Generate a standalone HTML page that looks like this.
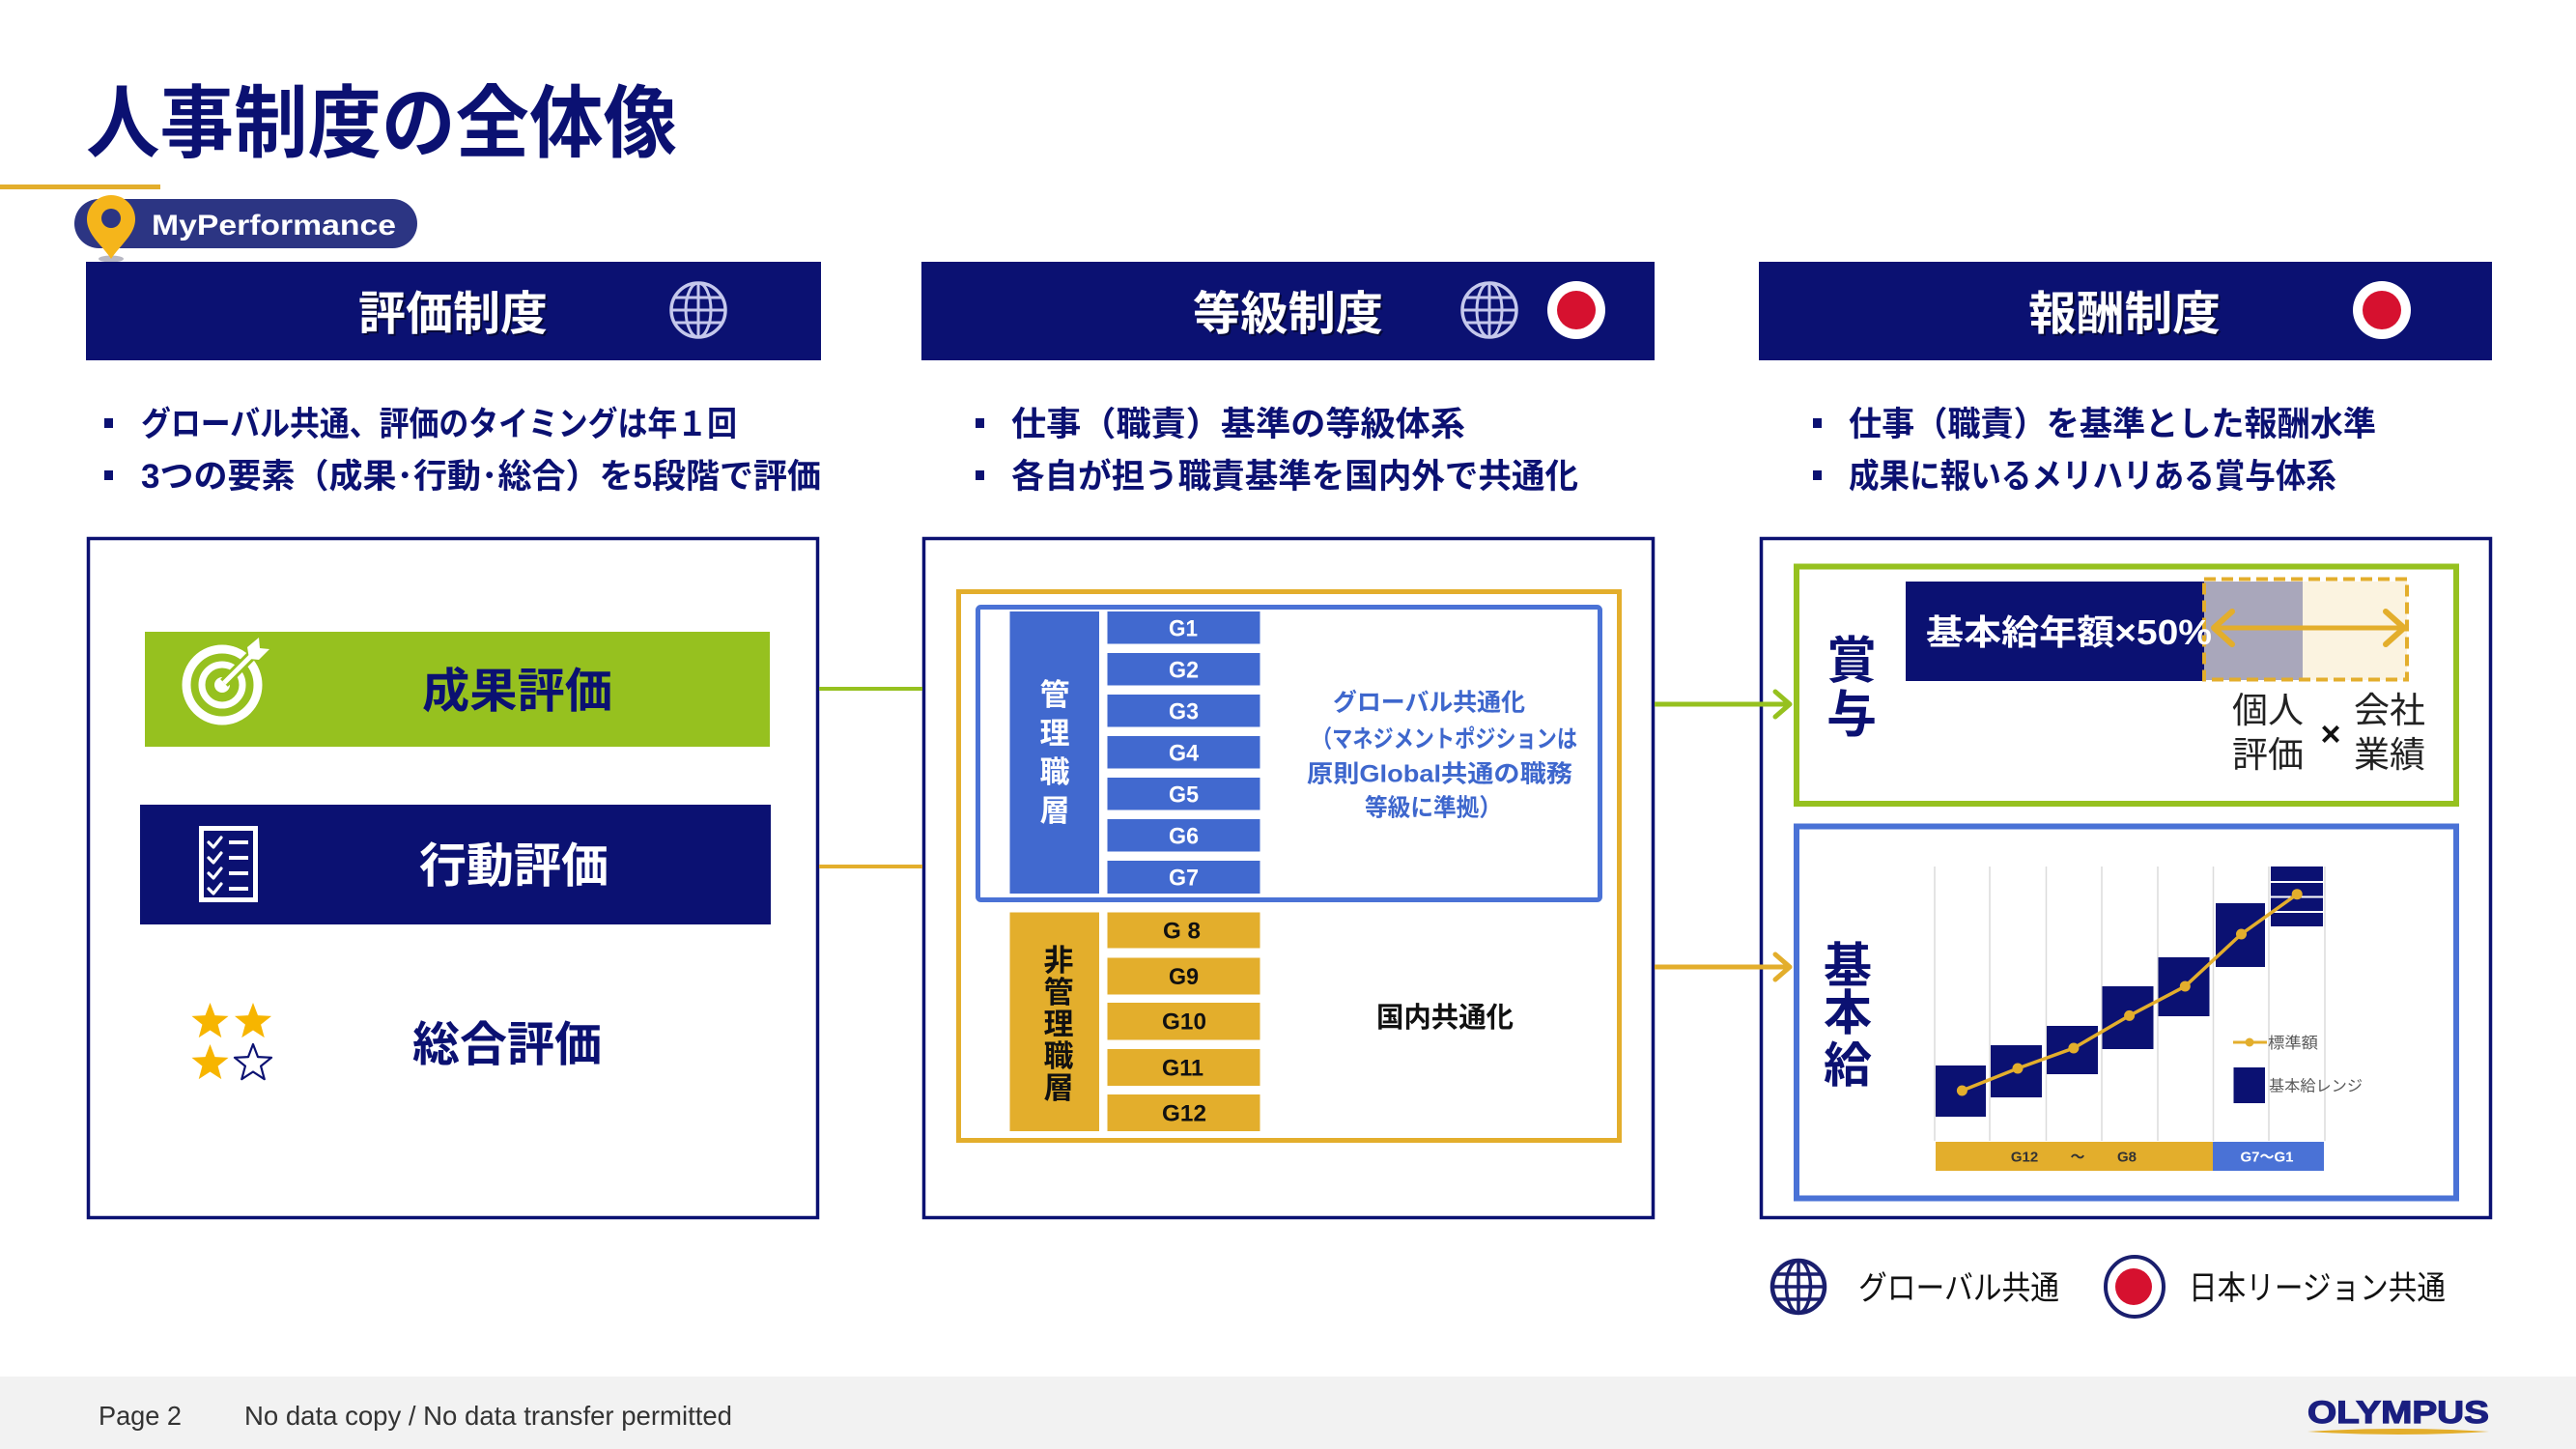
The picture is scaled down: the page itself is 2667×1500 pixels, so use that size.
<!DOCTYPE html>
<html><head><meta charset="utf-8">
<style>
html,body{margin:0;padding:0;background:#fff;}
svg{display:block;}
text{font-family:"Liberation Sans","Noto Sans CJK JP",sans-serif;}
</style></head>
<body>
<svg width="2667" height="1500" viewBox="0 0 2667 1500" xmlns="http://www.w3.org/2000/svg">
<defs>
  <g id="globeH">
    <circle cx="0" cy="0" r="28" fill="none" stroke="#c5c8ec" stroke-width="3.5"/>
    <ellipse cx="0" cy="0" rx="13" ry="28" fill="none" stroke="#c5c8ec" stroke-width="3"/>
    <line x1="0" y1="-28" x2="0" y2="28" stroke="#c5c8ec" stroke-width="3"/>
    <line x1="-28" y1="0" x2="28" y2="0" stroke="#c5c8ec" stroke-width="3"/>
    <line x1="-24" y1="-13" x2="24" y2="-13" stroke="#c5c8ec" stroke-width="3"/>
    <line x1="-24" y1="13" x2="24" y2="13" stroke="#c5c8ec" stroke-width="3"/>
  </g>
  <g id="redH">
    <circle cx="0" cy="0" r="30" fill="#ffffff"/>
    <circle cx="0" cy="0" r="20" fill="#d6112f"/>
  </g>
  <polygon id="star" points="0,-20 5,-6.88 19.02,-6.18 8.08,2.63 11.76,16.18 0,8.5 -11.76,16.18 -8.08,2.63 -19.02,-6.18 -5,-6.88"/>
</defs>

<!-- Title -->
<text x="89" y="156" font-size="82" font-weight="700" fill="#0b1172" textLength="612" lengthAdjust="spacingAndGlyphs">人事制度の全体像</text>
<rect x="0" y="191" width="166" height="5" fill="#e3ae2c"/>

<!-- MyPerformance pill -->
<rect x="77" y="206" width="355" height="51" rx="25.5" fill="#2c3583"/>
<text x="157" y="243" font-size="30" font-weight="700" fill="#ffffff" textLength="253" lengthAdjust="spacingAndGlyphs">MyPerformance</text>
<ellipse cx="115" cy="268" rx="13" ry="3.5" fill="#b8b8c4"/>
<path d="M115,268 C106,254 90,243 90,227 A25,25 0 1 1 140,227 C140,243 124,254 115,268 Z" fill="#f5b51b"/>
<circle cx="115" cy="226" r="10" fill="#2c3583"/>

<!-- Header bars -->
<rect x="89" y="271" width="761" height="102" fill="#0b1172"/>
<rect x="954" y="271" width="759" height="102" fill="#0b1172"/>
<rect x="1821" y="271" width="759" height="102" fill="#0b1172"/>

<text x="373" y="343" font-size="48" font-weight="700" fill="#000" opacity="0.5" textLength="196" lengthAdjust="spacingAndGlyphs">評価制度</text>
<text x="371" y="341" font-size="48" font-weight="700" fill="#ffffff" textLength="196" lengthAdjust="spacingAndGlyphs">評価制度</text>
<use href="#globeH" x="723" y="321"/>

<text x="1237" y="343" font-size="48" font-weight="700" fill="#000" opacity="0.5" textLength="197" lengthAdjust="spacingAndGlyphs">等級制度</text>
<text x="1235" y="341" font-size="48" font-weight="700" fill="#ffffff" textLength="197" lengthAdjust="spacingAndGlyphs">等級制度</text>
<use href="#globeH" x="1542" y="321"/>
<use href="#redH" x="1632" y="321"/>

<text x="2102" y="343" font-size="48" font-weight="700" fill="#000" opacity="0.5" textLength="199" lengthAdjust="spacingAndGlyphs">報酬制度</text>
<text x="2100" y="341" font-size="48" font-weight="700" fill="#ffffff" textLength="199" lengthAdjust="spacingAndGlyphs">報酬制度</text>
<use href="#redH" x="2466" y="321"/>

<!-- Bullets -->
<g fill="#0b1172">
  <rect x="108" y="433" width="9" height="10"/>
  <rect x="108" y="487" width="9" height="10"/>
  <rect x="1010" y="433" width="9" height="10"/>
  <rect x="1010" y="487" width="9" height="10"/>
  <rect x="1877" y="433" width="9" height="10"/>
  <rect x="1877" y="487" width="9" height="10"/>
</g>
<g font-size="35" font-weight="700" fill="#0b1172">
  <text x="146" y="451" textLength="617" lengthAdjust="spacingAndGlyphs">グローバル共通、評価のタイミングは年１回</text>
  <text x="146" y="505" textLength="704" lengthAdjust="spacingAndGlyphs">3つの要素（成果･行動･総合）を5段階で評価</text>
  <text x="1047" y="451" textLength="470" lengthAdjust="spacingAndGlyphs">仕事（職責）基準の等級体系</text>
  <text x="1047" y="505" textLength="587" lengthAdjust="spacingAndGlyphs">各自が担う職責基準を国内外で共通化</text>
  <text x="1914" y="451" textLength="546" lengthAdjust="spacingAndGlyphs">仕事（職責）を基準とした報酬水準</text>
  <text x="1914" y="505" textLength="505" lengthAdjust="spacingAndGlyphs">成果に報いるメリハリある賞与体系</text>
</g>

<!-- Outer boxes -->
<rect x="91.5" y="557.5" width="755" height="703" fill="none" stroke="#0b1172" stroke-width="3.5"/>
<rect x="956.5" y="557.5" width="755" height="703" fill="none" stroke="#0b1172" stroke-width="3.5"/>
<rect x="1823.5" y="557.5" width="755" height="703" fill="none" stroke="#0b1172" stroke-width="3.5"/>

<!-- Connectors -->
<line x1="848" y1="713" x2="955" y2="713" stroke="#96c11f" stroke-width="4"/>
<line x1="848" y1="897" x2="955" y2="897" stroke="#e3ae2c" stroke-width="4"/>
<line x1="1713" y1="729" x2="1852" y2="729" stroke="#96c11f" stroke-width="5"/>
<polyline points="1838,716 1853,729 1838,742" fill="none" stroke="#96c11f" stroke-width="5" stroke-linecap="round" stroke-linejoin="round"/>
<line x1="1713" y1="1001" x2="1852" y2="1001" stroke="#e3ae2c" stroke-width="5"/>
<polyline points="1838,988 1853,1001 1838,1014" fill="none" stroke="#e3ae2c" stroke-width="5" stroke-linecap="round" stroke-linejoin="round"/>

<!-- Left box content -->
<rect x="150" y="654" width="647" height="119" fill="#96c11f"/>
<text x="437" y="732" font-size="49" font-weight="700" fill="#0b1172" textLength="197" lengthAdjust="spacingAndGlyphs">成果評価</text>
<!-- target icon -->
<circle cx="230" cy="709" r="37" fill="none" stroke="#ffffff" stroke-width="9"/>
<circle cx="230" cy="709" r="21" fill="none" stroke="#ffffff" stroke-width="7"/>
<circle cx="230" cy="709" r="8" fill="#ffffff"/>
<line x1="232" y1="707" x2="262" y2="677" stroke="#96c11f" stroke-width="11"/>
<line x1="232" y1="707" x2="264" y2="675" stroke="#ffffff" stroke-width="5"/>
<polygon points="256,670 268,660 269,671 279,672 268,683 258,682" fill="#ffffff"/>

<rect x="145" y="833" width="653" height="124" fill="#0b1172"/>
<text x="434" y="913" font-size="49" font-weight="700" fill="#ffffff" textLength="196" lengthAdjust="spacingAndGlyphs">行動評価</text>
<!-- checklist icon -->
<rect x="208.5" y="857.5" width="56" height="74" fill="none" stroke="#ffffff" stroke-width="5"/>
<g stroke="#ffffff" fill="none" stroke-linecap="round" stroke-linejoin="round">
  <polyline points="216,872 221,877 229,867" stroke-width="3.2"/>
  <polyline points="216,888 221,893 229,883" stroke-width="3.2"/>
  <polyline points="216,904 221,909 229,899" stroke-width="3.2"/>
  <polyline points="216,920 221,925 229,915" stroke-width="3.2"/>
</g>
<g fill="#ffffff">
  <rect x="237" y="870" width="20" height="4"/>
  <rect x="237" y="886" width="20" height="4"/>
  <rect x="237" y="902" width="20" height="4"/>
  <rect x="237" y="918" width="20" height="4"/>
</g>

<!-- stars -->
<use href="#star" x="217.5" y="1058" fill="#f7b500"/>
<use href="#star" x="262" y="1058" fill="#f7b500"/>
<use href="#star" x="217.5" y="1101" fill="#f7b500"/>
<use href="#star" x="262" y="1101" fill="#ffffff" stroke="#0b1172" stroke-width="2.2" stroke-linejoin="round"/>
<text x="427" y="1098" font-size="49" font-weight="700" fill="#0b1172" textLength="196" lengthAdjust="spacingAndGlyphs">総合評価</text>

<!-- Middle box content -->
<rect x="992.5" y="612.5" width="684" height="568" fill="none" stroke="#e3ae2c" stroke-width="5"/>
<rect x="1012.5" y="628.5" width="644" height="303" rx="3" fill="none" stroke="#4a72d6" stroke-width="5"/>
<rect x="1045.5" y="633" width="92.5" height="292" fill="#4169cf"/>
<rect x="1045.5" y="944.5" width="92.5" height="226.5" fill="#e3ae2c"/>
<g font-size="31" font-weight="700" fill="#ffffff" text-anchor="middle">
  <text x="1092" y="730">管</text>
  <text x="1092" y="770">理</text>
  <text x="1092" y="810">職</text>
  <text x="1092" y="850">層</text>
</g>
<g font-size="31" font-weight="700" fill="#111111" text-anchor="middle">
  <text x="1096" y="1005">非</text>
  <text x="1096" y="1038">管</text>
  <text x="1096" y="1071">理</text>
  <text x="1096" y="1104">職</text>
  <text x="1096" y="1137">層</text>
</g>
<g fill="#4169cf">
  <rect x="1146.5" y="633" width="158" height="33.5"/>
  <rect x="1146.5" y="676" width="158" height="33.5"/>
  <rect x="1146.5" y="719" width="158" height="33.5"/>
  <rect x="1146.5" y="762" width="158" height="33.5"/>
  <rect x="1146.5" y="805" width="158" height="33.5"/>
  <rect x="1146.5" y="848" width="158" height="33.5"/>
  <rect x="1146.5" y="891" width="158" height="34"/>
</g>
<g fill="#e3ae2c">
  <rect x="1146.5" y="944.5" width="158" height="37"/>
  <rect x="1146.5" y="991.5" width="158" height="38"/>
  <rect x="1146.5" y="1038" width="158" height="38.5"/>
  <rect x="1146.5" y="1086" width="158" height="38"/>
  <rect x="1146.5" y="1133" width="158" height="38"/>
</g>
<g font-size="24" font-weight="700" fill="#ffffff" lengthAdjust="spacingAndGlyphs">
  <text x="1210" y="658.5" textLength="30" lengthAdjust="spacingAndGlyphs">G1</text>
  <text x="1210" y="701.5" textLength="31" lengthAdjust="spacingAndGlyphs">G2</text>
  <text x="1210" y="744.5" textLength="31" lengthAdjust="spacingAndGlyphs">G3</text>
  <text x="1210" y="787.5" textLength="31" lengthAdjust="spacingAndGlyphs">G4</text>
  <text x="1210" y="830.5" textLength="31" lengthAdjust="spacingAndGlyphs">G5</text>
  <text x="1210" y="873.5" textLength="31" lengthAdjust="spacingAndGlyphs">G6</text>
  <text x="1210" y="916.5" textLength="31" lengthAdjust="spacingAndGlyphs">G7</text>
</g>
<g font-size="24" font-weight="700" fill="#111111">
  <text x="1204" y="971.5" textLength="39" lengthAdjust="spacingAndGlyphs">G 8</text>
  <text x="1210" y="1019" textLength="31" lengthAdjust="spacingAndGlyphs">G9</text>
  <text x="1203" y="1065.5" textLength="46" lengthAdjust="spacingAndGlyphs">G10</text>
  <text x="1203" y="1113.5" textLength="43" lengthAdjust="spacingAndGlyphs">G11</text>
  <text x="1203" y="1160.5" textLength="46" lengthAdjust="spacingAndGlyphs">G12</text>
</g>
<g font-size="25" font-weight="700" fill="#3e67cd">
  <text x="1380" y="735.5" textLength="199" lengthAdjust="spacingAndGlyphs">グローバル共通化</text>
  <text x="1358" y="773.5" textLength="275" lengthAdjust="spacingAndGlyphs">（マネジメントポジションは</text>
  <text x="1353" y="809.5" textLength="275" lengthAdjust="spacingAndGlyphs">原則Global共通の職務</text>
  <text x="1413" y="844.5" textLength="142" lengthAdjust="spacingAndGlyphs">等級に準拠）</text>
</g>
<text x="1425" y="1063" font-size="29" font-weight="700" fill="#111111" textLength="142" lengthAdjust="spacingAndGlyphs">国内共通化</text>

<!-- Right box content -->
<rect x="1860" y="586.5" width="683" height="245.5" fill="none" stroke="#96c11f" stroke-width="6"/>
<rect x="1860" y="855.5" width="683" height="385" fill="none" stroke="#4a72d6" stroke-width="6"/>

<g font-size="52" font-weight="700" fill="#0b1172" text-anchor="middle">
  <text x="1917" y="702">賞</text>
  <text x="1917" y="758">与</text>
</g>
<g font-size="50" font-weight="700" fill="#0b1172" text-anchor="middle">
  <text x="1913" y="1017">基</text>
  <text x="1913" y="1066">本</text>
  <text x="1913" y="1120">給</text>
</g>

<rect x="1973" y="602" width="309" height="103" fill="#0b1172"/>
<rect x="2282" y="602" width="102" height="102" fill="#a9a7bb"/>
<rect x="2384" y="602" width="108" height="102" fill="#fbf3e0"/>
<rect x="2282" y="599.5" width="210" height="104" fill="none" stroke="#e3ae2c" stroke-width="4" stroke-dasharray="12,6"/>
<text x="1994" y="667" font-size="36" font-weight="700" fill="#ffffff" textLength="296" lengthAdjust="spacingAndGlyphs">基本給年額×50%</text>
<line x1="2292" y1="650" x2="2488" y2="650" stroke="#e3ae2c" stroke-width="5"/>
<polyline points="2311,633 2292,650 2311,667" fill="none" stroke="#e3ae2c" stroke-width="6" stroke-linecap="round" stroke-linejoin="round"/>
<polyline points="2470,633 2489,650 2470,667" fill="none" stroke="#e3ae2c" stroke-width="6" stroke-linecap="round" stroke-linejoin="round"/>

<g font-size="37" fill="#222222">
  <text x="2311" y="748" textLength="74" lengthAdjust="spacingAndGlyphs">個人</text>
  <text x="2311" y="794" textLength="74" lengthAdjust="spacingAndGlyphs">評価</text>
  <text x="2437" y="748" textLength="74" lengthAdjust="spacingAndGlyphs">会社</text>
  <text x="2437" y="794" textLength="74" lengthAdjust="spacingAndGlyphs">業績</text>
</g>
<text x="2413" y="772" font-size="36" font-weight="700" fill="#111111" text-anchor="middle">×</text>

<!-- chart -->
<g stroke="#dcdcdc" stroke-width="1.5">
  <line x1="2003" y1="897" x2="2003" y2="1181"/>
  <line x1="2060" y1="897" x2="2060" y2="1181"/>
  <line x1="2118.5" y1="897" x2="2118.5" y2="1181"/>
  <line x1="2176" y1="897" x2="2176" y2="1181"/>
  <line x1="2234" y1="897" x2="2234" y2="1181"/>
  <line x1="2291.5" y1="897" x2="2291.5" y2="1181"/>
  <line x1="2349" y1="897" x2="2349" y2="1181"/>
  <line x1="2407" y1="897" x2="2407" y2="1181"/>
</g>
<g fill="#0b1172">
  <rect x="2004" y="1103" width="52" height="53"/>
  <rect x="2061" y="1082" width="53" height="54"/>
  <rect x="2119" y="1062" width="53" height="50"/>
  <rect x="2176.5" y="1021" width="53" height="65"/>
  <rect x="2234.5" y="991" width="53" height="61"/>
  <rect x="2294" y="935" width="51" height="66"/>
  <rect x="2351" y="897" width="54" height="62"/>
</g>
<g stroke="#ffffff" stroke-width="2">
  <line x1="2351" y1="913" x2="2405" y2="913"/>
  <line x1="2351" y1="928.5" x2="2405" y2="928.5"/>
  <line x1="2351" y1="944" x2="2405" y2="944"/>
</g>
<polyline points="2031.4,1129 2089,1106 2146.9,1085 2204.6,1051.4 2262.3,1021 2320.5,967 2378.2,925.7" fill="none" stroke="#e3ae2c" stroke-width="3.5"/>
<g fill="#e3ae2c">
  <circle cx="2031.4" cy="1129" r="5.5"/>
  <circle cx="2089" cy="1106" r="5.5"/>
  <circle cx="2146.9" cy="1085" r="5.5"/>
  <circle cx="2204.6" cy="1051.4" r="5.5"/>
  <circle cx="2262.3" cy="1021" r="5.5"/>
  <circle cx="2320.5" cy="967" r="5.5"/>
  <circle cx="2378.2" cy="925.7" r="5.5"/>
</g>
<line x1="2312" y1="1079" x2="2347" y2="1079" stroke="#e3ae2c" stroke-width="3"/>
<circle cx="2329" cy="1079" r="4.5" fill="#e3ae2c"/>
<text x="2348" y="1085" font-size="16" fill="#595959" textLength="52" lengthAdjust="spacingAndGlyphs">標準額</text>
<rect x="2312.5" y="1105" width="32.5" height="37" fill="#0b1172"/>
<text x="2349" y="1129.5" font-size="16" fill="#595959" textLength="97" lengthAdjust="spacingAndGlyphs">基本給レンジ</text>
<rect x="2004" y="1182" width="287" height="30" fill="#e3ae2c"/>
<rect x="2291" y="1182" width="115" height="30" fill="#4a72d6"/>
<g font-size="15" font-weight="700" text-anchor="middle">
  <text x="2096" y="1202.5" fill="#333333">G12</text>
  <text x="2151" y="1202.5" fill="#333333">～</text>
  <text x="2202" y="1202.5" fill="#333333">G8</text>
  <text x="2347" y="1202.5" fill="#ffffff">G7～G1</text>
</g>

<!-- Legend -->
<g transform="translate(1862,1332)">
  <circle cx="0" cy="0" r="27" fill="none" stroke="#1a1f6e" stroke-width="4.5"/>
  <ellipse cx="0" cy="0" rx="12.5" ry="27" fill="none" stroke="#1a1f6e" stroke-width="3.5"/>
  <line x1="0" y1="-27" x2="0" y2="27" stroke="#1a1f6e" stroke-width="3.5"/>
  <line x1="-27" y1="0" x2="27" y2="0" stroke="#1a1f6e" stroke-width="3.5"/>
  <line x1="-23" y1="-13" x2="23" y2="-13" stroke="#1a1f6e" stroke-width="3.5"/>
  <line x1="-23" y1="13" x2="23" y2="13" stroke="#1a1f6e" stroke-width="3.5"/>
</g>
<text x="1924" y="1345" font-size="34" fill="#111111" textLength="208" lengthAdjust="spacingAndGlyphs">グローバル共通</text>
<ellipse cx="2210" cy="1332" rx="30" ry="31" fill="#ffffff" stroke="#1a1f6e" stroke-width="4"/>
<circle cx="2209" cy="1332" r="19" fill="#d6112f"/>
<text x="2266" y="1345" font-size="34" fill="#111111" textLength="266" lengthAdjust="spacingAndGlyphs">日本リージョン共通</text>

<!-- Footer -->
<rect x="0" y="1425" width="2667" height="75" fill="#f2f2f2"/>
<text x="102" y="1475" font-size="28" fill="#333333" textLength="86" lengthAdjust="spacingAndGlyphs">Page 2</text>
<text x="253" y="1475" font-size="28" fill="#333333" textLength="505" lengthAdjust="spacingAndGlyphs">No data copy / No data transfer permitted</text>
<text x="2389" y="1473" font-size="32" font-weight="700" fill="#1a1f80" stroke="#1a1f80" stroke-width="1.2" textLength="188" lengthAdjust="spacingAndGlyphs">OLYMPUS</text>
<path d="M2389,1482 Q2483,1476 2577,1482 Q2483,1488 2389,1482 Z" fill="#e3ae2c"/>
</svg>
</body></html>
